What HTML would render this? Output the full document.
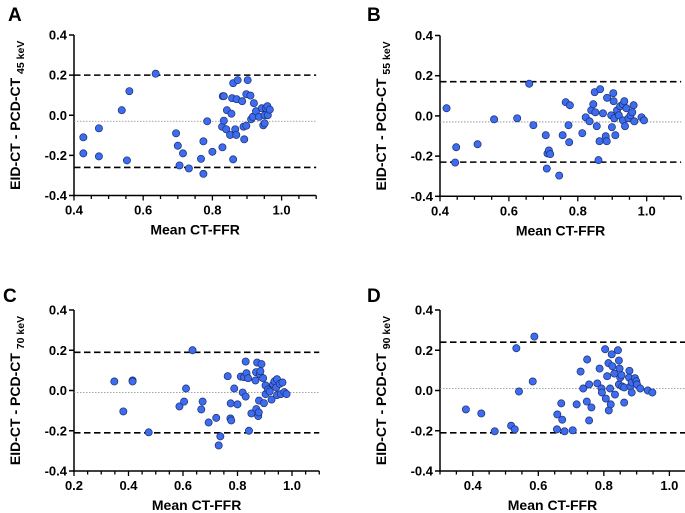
<!DOCTYPE html>
<html><head><meta charset="utf-8"><style>
html,body{margin:0;padding:0;background:#fff;}
svg{display:block;font-family:"Liberation Sans",Arial,sans-serif;font-weight:bold;}
</style></head><body>
<svg id="fig" width="685" height="513" viewBox="0 0 685 513"></svg>
<script>
const panelLetters=["A","B","C","D"];
const panelEnergies=["45 keV","55 keV","70 keV","90 keV"];
const yTicks=[-0.4,-0.2,0.0,0.2,0.4];
const xTicksA=[0.4,0.6,0.8,1.0];
const xTicksB=[0.4,0.6,0.8,1.0];
const xTicksC=[0.2,0.4,0.6,0.8,1.0];
const xTicksD=[0.4,0.6,0.8,1.0];
const limitsA=[0.2,-0.03,-0.26];
const limitsB=[0.17,-0.03,-0.23];
const limitsC=[0.19,-0.01,-0.21];
const limitsD=[0.24,0.01,-0.21];
const meanA=[0.427,0.427,0.472,0.472,0.538,0.56,0.553,0.636,0.695,0.70,0.705,0.715,0.732,0.767,0.774,0.774,0.785,0.80,0.829,0.83,0.833,0.828,0.833,0.84,0.842,0.851,0.855,0.857,0.86,0.86,0.866,0.869,0.873,0.87,0.886,0.89,0.892,0.898,0.898,0.902,0.91,0.912,0.917,0.92,0.926,0.935,0.943,0.947,0.951,0.951,0.955,0.959,0.96,0.966];
const diffA=[-0.11,-0.19,-0.065,-0.205,0.025,0.12,-0.225,0.207,-0.09,-0.152,-0.25,-0.19,-0.265,-0.217,-0.13,-0.292,-0.03,-0.182,-0.16,0.095,0.095,-0.057,-0.027,-0.07,0.025,-0.098,0.008,0.085,0.16,-0.22,-0.07,-0.098,0.175,0.08,0.07,-0.057,-0.12,-0.052,0.105,0.175,0.098,-0.02,-0.008,0.06,0.02,-0.008,0.035,-0.05,-0.04,0.0,0.035,0.045,0.0,0.028];
const meanB=[0.419,0.447,0.444,0.509,0.557,0.624,0.659,0.671,0.707,0.71,0.712,0.716,0.72,0.746,0.756,0.765,0.773,0.775,0.777,0.813,0.823,0.834,0.839,0.845,0.849,0.851,0.855,0.86,0.863,0.865,0.873,0.881,0.884,0.885,0.897,0.899,0.903,0.904,0.906,0.909,0.914,0.919,0.923,0.931,0.931,0.935,0.937,0.941,0.947,0.953,0.958,0.962,0.964,0.985,0.992];
const diffB=[0.038,-0.156,-0.232,-0.141,-0.017,-0.012,0.16,-0.046,-0.096,-0.262,-0.187,-0.172,-0.19,-0.297,-0.096,0.068,-0.046,-0.131,0.053,-0.086,-0.007,-0.027,0.028,0.058,0.118,0.018,-0.051,-0.22,-0.126,0.133,0.013,-0.101,-0.126,0.09,0.003,-0.056,0.113,0.073,-0.012,-0.096,0.028,0.003,0.048,0.058,-0.022,0.073,-0.051,0.038,-0.012,0.003,0.018,0.053,-0.027,-0.007,-0.022];
const meanC=[0.348,0.381,0.415,0.415,0.474,0.587,0.604,0.611,0.635,0.667,0.672,0.694,0.722,0.737,0.731,0.764,0.774,0.777,0.775,0.788,0.8,0.812,0.819,0.824,0.83,0.83,0.833,0.839,0.842,0.851,0.866,0.868,0.869,0.872,0.876,0.878,0.879,0.882,0.884,0.888,0.894,0.897,0.903,0.903,0.912,0.918,0.925,0.931,0.936,0.942,0.945,0.945,0.955,0.959,0.965,0.972,0.98];
const diffC=[0.045,-0.104,0.05,0.045,-0.208,-0.079,-0.055,0.01,0.2,-0.094,-0.055,-0.159,-0.136,-0.228,-0.273,0.071,-0.139,-0.149,-0.064,0.01,-0.069,0.069,-0.01,0.066,-0.03,0.144,0.086,0.061,-0.2,-0.114,0.05,0.091,-0.092,0.139,-0.127,-0.109,-0.05,0.081,0.096,0.131,0.061,-0.063,0.025,-0.018,0.005,-0.005,-0.045,0.031,0.046,0.015,0.056,-0.023,0.033,-0.018,0.04,-0.008,-0.018];
const meanD=[0.379,0.426,0.467,0.517,0.528,0.533,0.541,0.583,0.588,0.657,0.658,0.67,0.673,0.68,0.705,0.717,0.729,0.737,0.748,0.749,0.755,0.755,0.762,0.78,0.787,0.793,0.794,0.804,0.806,0.81,0.814,0.815,0.819,0.821,0.824,0.826,0.832,0.834,0.843,0.846,0.846,0.848,0.85,0.854,0.856,0.862,0.862,0.878,0.877,0.881,0.885,0.885,0.895,0.899,0.901,0.911,0.934,0.948];
const diffD=[-0.094,-0.114,-0.203,-0.175,-0.193,0.21,-0.005,0.045,0.268,-0.193,-0.119,-0.064,-0.145,-0.203,-0.198,-0.069,0.094,0.01,-0.055,0.154,-0.149,0.03,-0.084,0.035,0.109,0.01,-0.01,0.205,-0.04,0.071,0.136,-0.099,0.01,-0.069,0.18,0.121,0.084,-0.02,0.2,0.03,0.149,0.109,0.064,0.076,0.02,-0.06,0.015,0.098,0.064,0.02,-0.01,0.04,0.061,0.046,0.03,0.01,0.0,-0.01];

const NS="http://www.w3.org/2000/svg";
const svg=document.getElementById('fig');
function mk(tag,attrs,parent){const e=document.createElementNS(NS,tag);for(const k in attrs)e.setAttribute(k,attrs[k]);(parent||svg).appendChild(e);return e;}

const panels=[
 {ax:74,top:35,bot:195.5,xmin:0.4,xmax:1.1,ppu:346,lx:8,ly:21,ticks:xTicksA,lim:limitsA,mx:meanA,dy:diffA},
 {ax:440,top:35.5,bot:196.3,xmin:0.4,xmax:1.1,ppu:344.5,lx:367,ly:21,ticks:xTicksB,lim:limitsB,mx:meanB,dy:diffB},
 {ax:74,top:310,bot:471,xmin:0.2,xmax:1.1,ppu:272.5,lx:3,ly:302,ticks:xTicksC,lim:limitsC,mx:meanC,dy:diffC},
 {ax:440,top:310,bot:471,xmin:0.3,xmax:1.1,ppu:327.7,lx:367,ly:302,ticks:xTicksD,lim:limitsD,mx:meanD,dy:diffD}
];
panels.forEach((p,i)=>{
 const g=mk('g',{});
 
 
 const xs=v=>p.ax+(v-p.xmin)*p.ppu;
 const ys=v=>p.bot-(v+0.4)/0.8*(p.bot-p.top);
 const xEnd=xs(p.xmax);
 const lt=mk('text',{x:p.lx,y:p.ly,'font-size':19},g);lt.textContent=panelLetters[i];
 
 const ya=mk('line',{x1:p.ax,y1:p.top,x2:p.ax,y2:p.bot+0.75,stroke:'#000','stroke-width':1.5},g);
 
 const xa=mk('line',{x1:p.ax-0.75,y1:p.bot,x2:xEnd,y2:p.bot,stroke:'#000','stroke-width':1.5},g);
 
 yTicks.forEach(t=>{
  const y=ys(t);
  mk('line',{x1:p.ax-5,y1:y,x2:p.ax,y2:y,stroke:'#000','stroke-width':1.5},g);
  const tx=mk('text',{x:p.ax-7,y:y+4.5,'font-size':13,'text-anchor':'end'},g);
  tx.textContent=t.toFixed(1);
  
 });
 for(let v=p.xmin;v<=p.xmax+1e-6;v+=0.05){
  const x=xs(v);
  const major=p.ticks.some(t=>Math.abs(t-v)<1e-6);
  mk('line',{x1:x,y1:p.bot,x2:x,y2:p.bot+(major?5:3.5),stroke:'#000','stroke-width':1.3},g);
 }
 p.ticks.forEach(t=>{
  const tx=mk('text',{x:xs(t),y:p.bot+19,'font-size':13,'text-anchor':'middle'},g);
  tx.textContent=t.toFixed(1);
  
 });
 const xt=mk('text',{x:(p.ax+Math.min(xEnd,685))/2+(i==3?-10:0),y:p.bot+39,'font-size':14,'text-anchor':'middle'},g);
 xt.textContent='Mean CT-FFR';
 
 const cy=(p.top+p.bot)/2, cx=p.ax-54;
 const yt=mk('text',{x:cx,y:cy,'font-size':14,'text-anchor':'middle',transform:`rotate(-90 ${cx} ${cy})`},g);
 
 yt.appendChild(document.createTextNode('EID-CT - PCD-CT '));
 const sub=mk('tspan',{'font-size':10.5,dy:4},yt);sub.textContent=panelEnergies[i];
 const lineNames=['upper-limit-line','mean-bias-line','lower-limit-line'];
 p.lim.forEach((v,k)=>{
  const y=ys(v);
  const l=mk('line',{x1:p.ax,y1:y,x2:xEnd,y2:y,stroke:k==1?'#888':'#000','stroke-width':k==1?0.8:1.6,'stroke-dasharray':k==1?'1.5,1.5':'6.5,3.5'},g);
  
 });
 p.mx.forEach((m,k)=>{
  const c=mk('circle',{cx:xs(m),cy:ys(p.dy[k]),r:3.6,fill:'#3d6cf0',stroke:'#1c2f6e','stroke-width':0.7},g);
  
 });
});
</script>
</body></html>
